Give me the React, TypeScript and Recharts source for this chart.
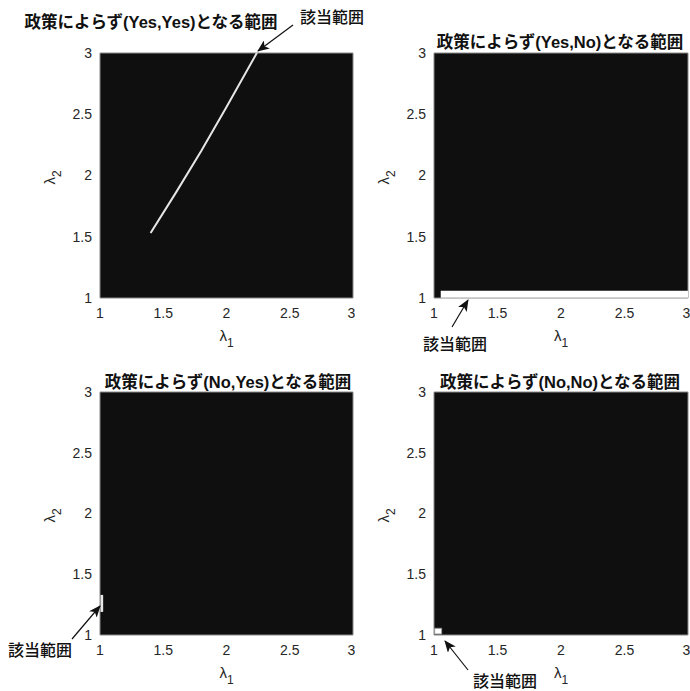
import { ComposedChart, XAxis, YAxis, Line, ReferenceArea, Label } from "recharts";

const lambdaTicks = [1, 1.5, 2, 2.5, 3];
const lambdaDomain = [1, 3];

const titles = [
  "政策によらず(Yes,Yes)となる範囲",
  "政策によらず(Yes,No)となる範囲",
  "政策によらず(No,Yes)となる範囲",
  "政策によらず(No,No)となる範囲",
];
const noteText = "該当範囲";

// (Yes,Yes): thin boundary band
const yesYesL1 = [1.4, 1.6, 1.8, 2.0, 2.24];
const yesYesL2 = [1.53, 1.86, 2.2, 2.56, 3.0];

// (Yes,No): strip along the bottom
const yesNoL1 = [1.053, 3];
const yesNoL2 = [1.003, 1.06];

// (No,Yes): sliver at the left edge
const noYesL1 = [1.004, 1.025];
const noYesL2 = [1.19, 1.33];

// (No,No): tiny square in the corner
const noNoL1 = [1.005, 1.06];
const noNoL2 = [1.008, 1.055];

const FONT = "'Liberation Sans', Arial, 'Noto Sans CJK JP', sans-serif";
const Y_AXIS_W = 60;
const X_AXIS_H = 60;
const TOP = 10;
const RIGHT = 2;

const tickStyle = { fill: "#262626", fontSize: 14, fontFamily: FONT };

const XLab = (props: any) => {
  const vb = props.viewBox;
  return (
    <text x={vb.x + vb.width / 2} y={vb.y + 43} textAnchor="middle" fill="#262626" fontSize={15} fontFamily={FONT}>
      λ<tspan dy={6} fontSize={12}>1</tspan>
    </text>
  );
};

const YLab = (props: any) => {
  const vb = props.viewBox;
  const x = vb.x + vb.width - 45;
  const y = vb.y + vb.height / 2 + 2;
  return (
    <text x={x} y={y} textAnchor="middle" fill="#262626" fontSize={15} fontFamily={FONT} transform={`rotate(-90 ${x} ${y})`}>
      λ<tspan dy={6} fontSize={12}>2</tspan>
    </text>
  );
};

function Panel({ left, top, w, h, children }: { left: number; top: number; w: number; h: number; children?: any }) {
  return (
    <div style={{ position: "absolute", left: left - Y_AXIS_W, top: top - TOP }}>
      <ComposedChart
        width={w + Y_AXIS_W + RIGHT}
        height={h + TOP + X_AXIS_H}
        margin={{ top: TOP, right: RIGHT, left: 0, bottom: 0 }}
      >
        <XAxis
          type="number"
          dataKey="l1"
          domain={lambdaDomain}
          ticks={lambdaTicks}
          allowDataOverflow
          height={X_AXIS_H}
          axisLine={false}
          tickLine={false}
          tickMargin={4}
          tick={tickStyle}
        >
          <Label content={XLab} />
        </XAxis>
        <YAxis
          type="number"
          dataKey="l2"
          domain={lambdaDomain}
          ticks={lambdaTicks}
          allowDataOverflow
          width={Y_AXIS_W}
          axisLine={false}
          tickLine={false}
          tick={tickStyle}
        >
          <Label content={YLab} />
        </YAxis>
        <ReferenceArea x1={1} x2={3} y1={1} y2={3} fill="#0f0f0f" fillOpacity={1} stroke="#8a8a8a" strokeWidth={1} />
        {children}
      </ComposedChart>
    </div>
  );
}

const yesYesData = yesYesL1.map((l1, i) => ({ l1, l2: yesYesL2[i] }));

export default function App() {
  return (
    <div style={{ position: "absolute", left: 0, top: 0, width: 690, height: 691, background: "#fff", fontFamily: FONT, overflow: "hidden" }}>
      <Panel left={100} top={53} w={253} h={245}>
        <Line data={yesYesData} dataKey="l2" type="linear" stroke="#e6e6e6" strokeWidth={2} dot={false} isAnimationActive={false} />
      </Panel>
      <Panel left={434} top={53} w={254} h={245}>
        <ReferenceArea x1={yesNoL1[0]} x2={yesNoL1[1]} y1={yesNoL2[0]} y2={yesNoL2[1]} fill="#ffffff" fillOpacity={1} />
      </Panel>
      <Panel left={100} top={392} w={253} h={243}>
        <ReferenceArea x1={noYesL1[0]} x2={noYesL1[1]} y1={noYesL2[0]} y2={noYesL2[1]} fill="#e8e8e8" fillOpacity={1} />
      </Panel>
      <Panel left={434} top={392} w={254} h={243}>
        <ReferenceArea x1={noNoL1[0]} x2={noNoL1[1]} y1={noNoL2[0]} y2={noNoL2[1]} fill="#ffffff" fillOpacity={1} stroke="#9a9a9a" strokeWidth={1} />
      </Panel>

      <svg width={690} height={691} style={{ position: "absolute", left: 0, top: 0, pointerEvents: "none" }}>
        <defs>
          <marker id="ah" markerWidth={12} markerHeight={10} refX={11} refY={5} orient="auto" markerUnits="userSpaceOnUse">
            <path d="M0,0 L12,5 L0,10 L3,5 z" fill="#111" />
          </marker>
        </defs>
        <g fontFamily={FONT} fontWeight="bold" fontSize={16.5} fill="#111" textAnchor="middle">
          <text x={151} y={28}>{titles[0]}</text>
          <text x={560} y={48}>{titles[1]}</text>
          <text x={228} y={388}>{titles[2]}</text>
          <text x={560} y={388}>{titles[3]}</text>
        </g>
        <g fontFamily={FONT} fontSize={16} fontWeight={500} fill="#111" textAnchor="middle">
          <text x={332} y={23}>{noteText}</text>
          <text x={455} y={350}>{noteText}</text>
          <text x={40} y={656}>{noteText}</text>
          <text x={505} y={687}>{noteText}</text>
        </g>
        <g stroke="#111" strokeWidth={1.2} markerEnd="url(#ah)">
          <line x1={293} y1={25} x2={258} y2={51} />
          <line x1={452} y1={327} x2={468} y2={300} />
          <line x1={72} y1={639} x2={100} y2={606} />
          <line x1={468} y1={670} x2={445} y2={641} />
        </g>
      </svg>
    </div>
  );
}
